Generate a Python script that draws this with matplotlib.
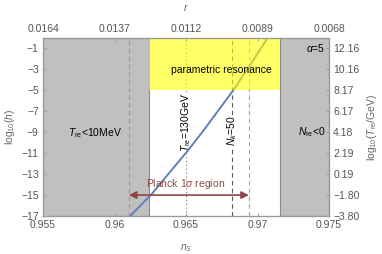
import numpy as np
import matplotlib
matplotlib.use('Agg')
import matplotlib.pyplot as plt

plt.rcParams['font.family'] = ['Liberation Sans', 'DejaVu Sans']
plt.rcParams['mathtext.fontset'] = 'custom'
plt.rcParams['mathtext.rm'] = 'Liberation Sans'
plt.rcParams['mathtext.it'] = 'Liberation Sans:italic'
plt.rcParams['mathtext.bf'] = 'Liberation Sans:bold'

# Data
ns_curve = [0.9611, 0.9626, 0.9640, 0.9651, 0.9663, 0.9683, 0.9695, 0.9707]
logh_curve = [-17.0, -14.9, -12.6, -10.8, -8.7, -5.0, -2.55, 0.0]

ns_ticks = [0.955, 0.96, 0.965, 0.97, 0.975]
ns_labels = ['0.955', '0.96', '0.965', '0.97', '0.975']
r_labels = ['0.0164', '0.0137', '0.0112', '0.0089', '0.0068']

logh_ticks = [-1, -3, -5, -7, -9, -11, -13, -15, -17]
logT_labels = ['12.16', '10.16', '8.17', '6.17', '4.18', '2.19', '0.19', '\u22121.80', '\u22123.80']

ns_low_cut = 0.9624      # T_re < 10 MeV
ns_high_cut = 0.9716     # N_re < 0
logh_resonance = -5
ns_T130 = 0.965
ns_Nk50 = 0.9682
planck_lo, planck_hi = 0.961, 0.9694

# Styles
tick_col = '#555555'
spine_col = '#999999'
fs = 7.5

fig = plt.figure(figsize=(3.82, 2.54), dpi=100)
ax = fig.add_axes([0.1126, 0.1496, 0.7487, 0.7008])

ax.set_xlim(0.955, 0.975)
ax.set_ylim(-17, 0)

# excluded regions
ax.axvspan(0.955, ns_low_cut, facecolor='#c0c0c0', edgecolor='#8a8a8a', lw=0.8, zorder=1)
ax.axvspan(ns_high_cut, 0.975, facecolor='#c0c0c0', edgecolor='#8a8a8a', lw=0.8, zorder=1)

# vertical reference lines
ax.axvline(planck_lo, color='#9a9a9a', ls=(0, (4, 3)), lw=0.8, zorder=2)
ax.axvline(ns_T130, color='#777777', ls=(0, (1, 2.5)), lw=0.8, zorder=2)
ax.axvline(ns_Nk50, color='#555555', ls=(0, (4, 3)), lw=0.8, zorder=2)
ax.axvline(planck_hi, color='#c89090', ls=(0, (4, 3)), lw=0.8, zorder=2)

# the curve
ax.plot(ns_curve, logh_curve, color='#5e81b5', lw=1.4, zorder=3)

# parametric resonance band (semi-transparent over the curve)
ax.fill_between([ns_low_cut, ns_high_cut], logh_resonance, 0, color='#ffff00',
                alpha=0.6, lw=0, zorder=4)

# Planck 1 sigma arrow
arrow_col = '#8c4848'
ax.annotate('', xy=(planck_lo, -15), xytext=(planck_hi, -15),
            arrowprops=dict(arrowstyle='<|-|>', color=arrow_col, lw=1.2,
                            mutation_scale=11, shrinkA=0, shrinkB=0), zorder=5)
ax.text(0.965, -13.95, r'Planck 1$\sigma$ region', color=arrow_col, fontsize=fs,
        ha='center', va='center', zorder=5)

# labels inside
ax.text(0.9675, -3.1, 'parametric resonance', fontsize=fs, ha='center', va='center', zorder=5)
ax.text(0.9586, -9.1, r'$T_{\rm re}$<10MeV', fontsize=fs, ha='center', va='center', zorder=5)
ax.text(0.97475, -9.0, r'$N_{\rm re}$<0', fontsize=fs, ha='right', va='center', zorder=5)
ax.text(0.97475, -1.0, r'$\alpha$=5', fontsize=fs, ha='right', va='center', zorder=5)
ax.text(ns_T130, -8.05, r'$T_{\rm re}$=130GeV', fontsize=fs, rotation=90,
        ha='center', va='center', zorder=2.5,
        bbox=dict(fc='white', ec='none', pad=0.3))
ax.text(ns_Nk50, -8.9, r'$N_k$=50', fontsize=fs, rotation=90,
        ha='center', va='center', zorder=2.5,
        bbox=dict(fc='white', ec='none', pad=0.3))

# axes styling
def style(a):
    for s in a.spines.values():
        s.set_color(spine_col)
        s.set_linewidth(0.8)
    a.tick_params(direction='in', length=2.5, width=0.6, color=spine_col,
                  labelcolor=tick_col, labelsize=fs, pad=3)

ax.set_xticks(ns_ticks)
ax.set_xticklabels(ns_labels)
ax.set_yticks(logh_ticks)
ax.set_yticklabels([str(v).replace('-', '\u2212') for v in logh_ticks])
ax.set_xlabel(r'$n_S$', color='#666666', fontsize=fs, labelpad=9)
ax.set_ylabel(r'log$_{10}$($h$)', color='#666666', fontsize=fs, labelpad=3)
style(ax)

axt = ax.twiny()
axt.set_xlim(ax.get_xlim())
axt.set_xticks(ns_ticks)
axt.set_xticklabels(r_labels)
axt.set_xlabel(r'$r$', color='#666666', fontsize=fs, labelpad=9)
style(axt)

axr = ax.twinx()
axr.set_ylim(ax.get_ylim())
axr.set_yticks(logh_ticks)
axr.set_yticklabels(logT_labels)
axr.set_ylabel(r'log$_{10}$($T_{\rm re}$/GeV)', color='#666666', fontsize=fs, labelpad=4)
style(axr)

fig.savefig('out.png', dpi=100)
